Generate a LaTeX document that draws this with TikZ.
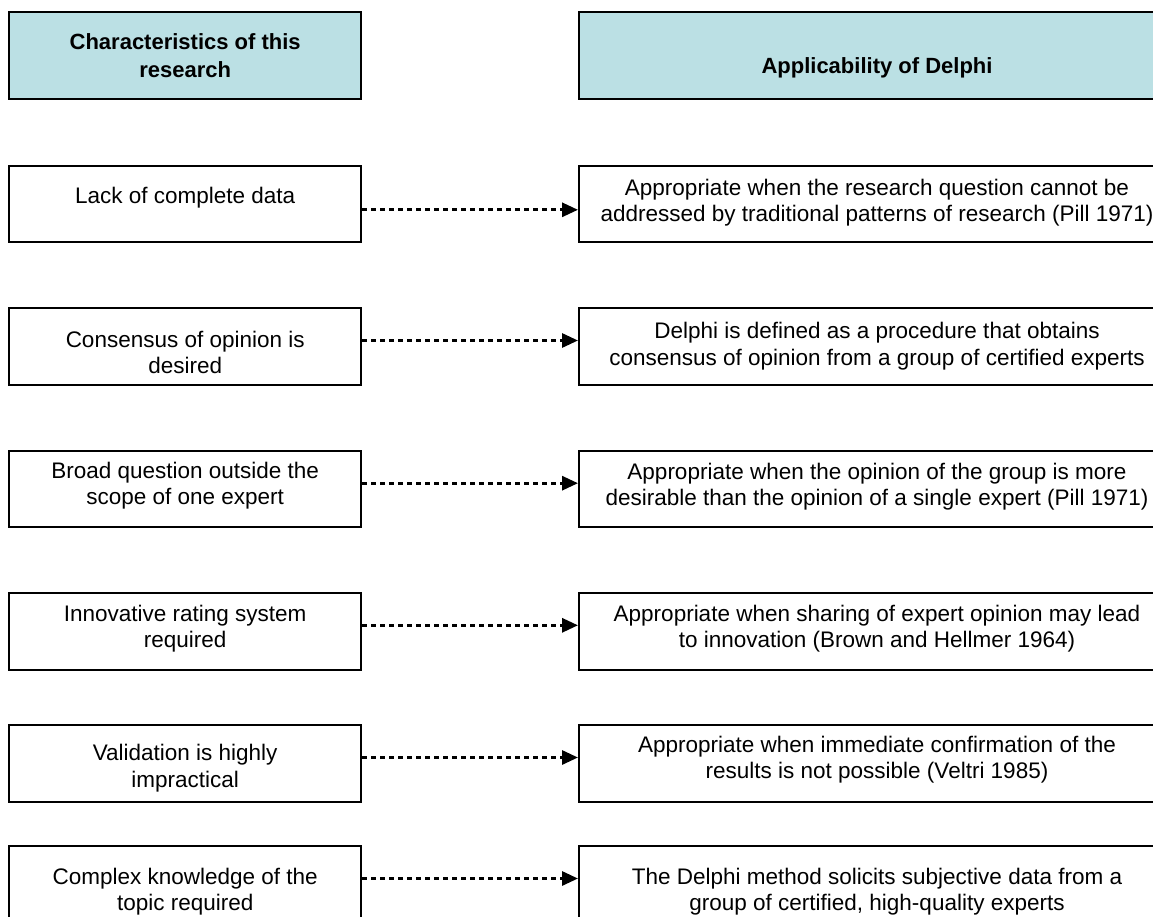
\documentclass[tikz,border=0pt]{standalone}
\usepackage{fontspec}
\setmainfont{Liberation Sans}
\usetikzlibrary{arrows.meta}
\definecolor{headfill}{RGB}{187,224,228}
\begin{document}
\begin{tikzpicture}[x=1pt,y=-1pt,
  box/.style={draw=black,line width=2pt,fill=white,inner sep=0pt},
  lbox/.style={box,minimum width=351.7pt,minimum height=76.5pt},
  rbox/.style={box,minimum width=596pt,minimum height=76.5pt},
  head/.style={fill=headfill,minimum height=87pt},
  txt/.style={inner sep=0pt,align=center,anchor=north,font=\fontsize{22.5}{26.3}\selectfont},
  htxt/.style={inner sep=0pt,align=center,anchor=base,font=\bfseries\fontsize{22}{27.7}\selectfont},
  arr/.style={line width=3pt,dash pattern=on 5pt off 4pt,-{Triangle[length=16pt,width=14pt]}}
]
\path[use as bounding box,clip] (0,0) rectangle (1153,917);
% headers
\node[lbox,head] (lh) at (185.2,55.5) {};
\node[htxt] (lht1) at ([yshift=-39pt]lh.north) {Characteristics of this};
\node[htxt] (lht2) at ([yshift=-66.7pt]lh.north) {research};
\node[rbox,head] (rh) at (877,55.5) {};
\node[htxt] (rht) at ([yshift=-62.6pt]rh.north) {Applicability of Delphi};
% rows
\node[lbox] (l1) at (185.2,203.8) {};
\node[rbox] (r1) at (877,203.8) {};
\node[lbox] (l2) at (185.2,346.5) {};
\node[rbox] (r2) at (877,346.5) {};
\node[lbox] (l3) at (185.2,489.2) {};
\node[rbox] (r3) at (877,489.2) {};
\node[lbox] (l4) at (185.2,631.3) {};
\node[rbox] (r4) at (877,631.3) {};
\node[lbox] (l5) at (185.2,763.5) {};
\node[rbox] (r5) at (877,763.5) {};
\node[lbox] (l6) at (185.2,884.5) {};
\node[rbox] (r6) at (877,884.5) {};
% texts (top aligned, offsets per box)
\node[txt] (l1t) at ([yshift=-20.7pt]l1.north) {\strut Lack of complete data};
\node[txt] (r1t) at ([yshift=-12.4pt]r1.north) {\strut Appropriate when the research question cannot be\\addressed by traditional patterns of research (Pill 1971)};
\node[txt] (l2t) at ([yshift=-21.7pt]l2.north) {\strut Consensus of opinion is\\desired};
\node[txt] (r2t) at ([yshift=-13pt]r2.north) {\strut Delphi is defined as a procedure that obtains\\consensus of opinion from a group of certified experts};
\node[txt] (l3t) at ([yshift=-9.7pt]l3.north) {\strut Broad question outside the\\scope of one expert};
\node[txt] (r3t) at ([yshift=-10.7pt]r3.north) {\strut Appropriate when the opinion of the group is more\\desirable than the opinion of a single expert (Pill 1971)};
\node[txt] (l4t) at ([yshift=-10.4pt]l4.north) {\strut Innovative rating system\\required};
\node[txt] (r4t) at ([yshift=-10.7pt]r4.north) {\strut Appropriate when sharing of expert opinion may lead\\to innovation (Brown and Hellmer 1964)};
\node[txt] (l5t) at ([yshift=-18pt]l5.north) {\strut Validation is highly\\impractical};
\node[txt] (r5t) at ([yshift=-9.7pt]r5.north) {\strut Appropriate when immediate confirmation of the\\results is not possible (Veltri 1985)};
\node[txt] (l6t) at ([yshift=-20.7pt]l6.north) {\strut Complex knowledge of the\\topic required};
\node[txt] (r6t) at ([yshift=-20.7pt]r6.north) {\strut The Delphi method solicits subjective data from a\\group of certified, high-quality experts};
% arrows
\draw[arr] ([yshift=-6pt]l1.east) -- ([yshift=-6pt]r1.west);
\foreach \i in {2,...,6}{
  \draw[arr] ([yshift=6pt]l\i.east) -- ([yshift=6pt]r\i.west);
}
\end{tikzpicture}
\end{document}
